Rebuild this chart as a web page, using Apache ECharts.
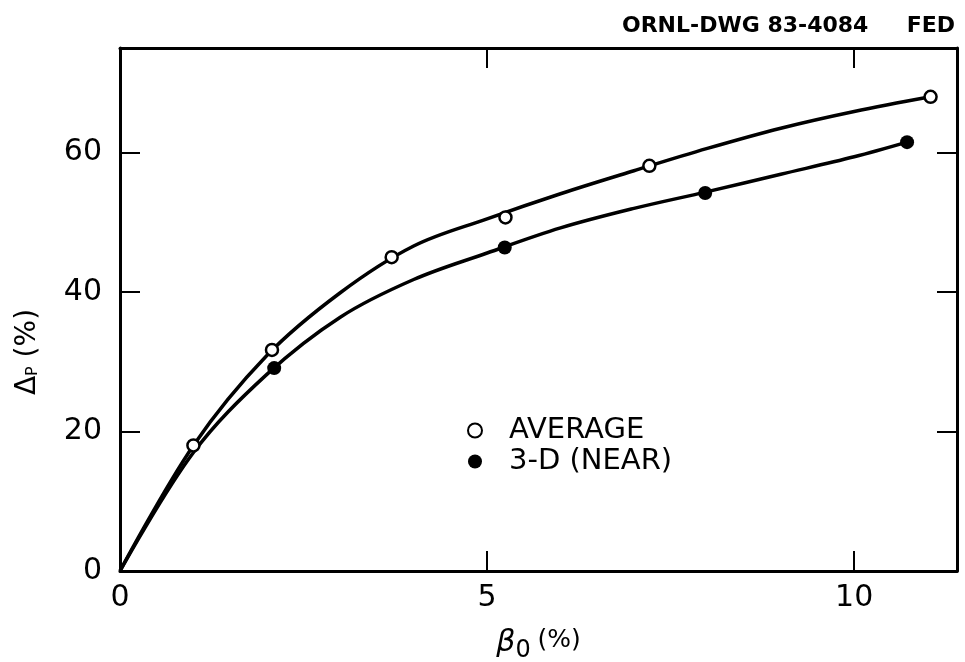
<!DOCTYPE html>
<html>
<head>
<meta charset="utf-8">
<script src="https://cdn.jsdelivr.net/npm/echarts@6/dist/echarts.min.js"></script>
<style>
  html, body { margin: 0; padding: 0; background: #fff; }
  #chart { width: 965px; height: 662px; }
</style>
</head>
<body>
<div id="chart"></div>
<script>
// measured points (beta0 %, delta_p %)
const avgPoints = [[1.0, 18.0], [2.07, 31.7], [3.7, 45.0], [5.25, 50.7], [7.21, 58.1], [11.04, 68.0]]
const nearPoints = [[2.1, 29.1], [5.24, 46.4], [7.97, 54.2], [10.72, 61.5]]
// hand-drawn fitted curves at whole beta0 steps
const avgCurve = [[0, 0], [1, 18.0], [2, 30.9], [3, 39.9], [4, 46.6], [5, 50.5], [6, 54.1],
    [7, 57.4], [8, 60.6], [9, 63.5], [10, 65.9], [11.04, 68.0]]
const nearCurve = [[0, 0], [1, 17.0], [2, 28.2], [3, 36.4], [4, 41.8], [5, 45.6], [6, 49.2],
    [7, 52.0], [8, 54.4], [9, 56.9], [10, 59.4], [10.72, 61.5]]
const xTicks = [0, 5, 10]
const yTicks = [0, 20, 40, 60]

const chart = echarts.init(document.getElementById('chart'))
const font = 'DejaVu Sans'
const tick = () => ({ show: true, inside: true, length: 20, lineStyle: { color: '#000', width: 2 } })
const axLine = () => ({ show: true, onZero: false, lineStyle: { color: '#000', width: 3 } })

const option = {
    backgroundColor: '#fff',
    animation: false,
    title: {
        text: 'ORNL-DWG 83-4084     FED',
        right: 5,
        top: 10,
        textStyle: { fontFamily: font, fontSize: 22, fontWeight: 'bold', color: '#000' },
    },
    grid: { left: 120, right: 8, top: 48, bottom: 91, outerBoundsMode: 'none' },
    legend: {
        orient: 'vertical',
        left: 462,
        top: 411,
        itemGap: 2,
        itemWidth: 14,
        itemHeight: 14,
        textStyle: { fontFamily: font, fontSize: 29, color: '#000', padding: [0, 0, 0, 22] },
        data: ['AVERAGE', '3-D (NEAR)'],
    },
    graphic: [
        {
            type: 'text',
            x: 28, y: 352, rotation: Math.PI / 2,
            style: {
                text: 'Δ{p|P} (%)',
                fontFamily: font, fontSize: 28, fill: '#000',
                align: 'center', verticalAlign: 'middle',
                rich: {
                    p: { fontFamily: font, fontSize: 16, fill: '#000', padding: [10, 0, 0, 0] },
                },
            },
        },
    ],
    xAxis: [
        {
            type: 'value', min: 0, max: 11.4, interval: 5,
            name: '{b|β}{s|0}  {t|(%)}', nameLocation: 'middle', nameGap: 52,
            nameTextStyle: {
                rich: {
                    b: { fontFamily: font, fontSize: 30, fontStyle: 'italic', color: '#000' },
                    s: { fontFamily: font, fontSize: 24, color: '#000', padding: [16, 0, 0, 0] },
                    t: { fontFamily: font, fontSize: 25, color: '#000', padding: [0, 0, 6, 0] },
                },
            },
            axisLine: axLine(),
            axisTick: tick(),
            axisLabel: {
                fontFamily: font, fontSize: 30, color: '#000', margin: 12, showMaxLabel: false,
                formatter: v => xTicks.includes(v) ? String(v) : '',
            },
            splitLine: { show: false },
        },
        {
            type: 'value', min: 0, max: 11.4, interval: 5, position: 'top',
            axisLine: axLine(), axisTick: tick(), axisLabel: { show: false }, splitLine: { show: false },
        },
    ],
    yAxis: [
        {
            type: 'value', min: 0, max: 75, interval: 20,
            axisLine: axLine(),
            axisTick: tick(),
            axisLabel: {
                fontFamily: font, fontSize: 30, color: '#000', margin: 18, showMaxLabel: false,
                formatter: v => yTicks.includes(v) ? String(v) : '',
            },
            splitLine: { show: false },
        },
        {
            type: 'value', min: 0, max: 75, interval: 20, position: 'right',
            axisLine: axLine(), axisTick: tick(), axisLabel: { show: false }, splitLine: { show: false },
        },
    ],
    series: [
        {
            name: 'avg-curve', type: 'line', data: avgCurve, smooth: 0.35, symbol: 'none',
            lineStyle: { color: '#000', width: 3.5 }, z: 2,
        },
        {
            name: 'near-curve', type: 'line', data: nearCurve, smooth: 0.35, symbol: 'none',
            lineStyle: { color: '#000', width: 3.5 }, z: 2,
        },
        {
            name: 'AVERAGE', type: 'scatter', data: avgPoints, symbol: 'circle', symbolSize: 12,
            itemStyle: { color: '#fff', borderColor: '#000', borderWidth: 2.5, opacity: 1 }, z: 5,
        },
        {
            name: '3-D (NEAR)', type: 'scatter', data: nearPoints, symbol: 'circle', symbolSize: 14,
            itemStyle: { color: '#000', opacity: 1 }, z: 5,
        },
    ],
}
chart.setOption(option)
</script>
</body>
</html>
